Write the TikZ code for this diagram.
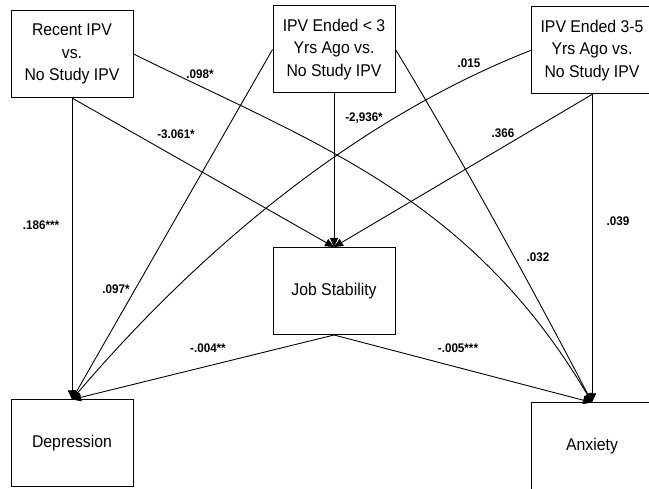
\documentclass[tikz,border=0pt]{standalone}
\usepackage{fontspec}
\setmainfont{Liberation Sans}[FakeStretch=0.93]
\usetikzlibrary{arrows.meta}
\begin{document}
\begin{tikzpicture}[x=1pt,y=-1pt,
  box/.style={draw,line width=1pt,minimum width=122pt,minimum height=87pt,inner sep=0pt,align=center,font=\fontsize{17}{22.5}\selectfont},
  lab/.style={font=\fontsize{12.5}{14}\selectfont\bfseries,inner sep=0pt},
  conn/.style={line width=0.9pt,-{Triangle[length=9pt,width=8pt]}}]
\useasboundingbox (0,0) rectangle (649,489);
\node[box] (rec) at (72,54) {Recent IPV\\vs.\\No Study IPV};
\node[box] (lt3) at (334,49.5) {IPV Ended < 3\\Yrs Ago vs.\\No Study IPV};
\node[box] (t35) at (592,50.5) {IPV Ended 3-5\\Yrs Ago vs.\\No Study IPV};
\node[box] (job) at (334,291) {Job Stability};
\node[box] (dep) at (72,443.5) {Depression};
\node[box] (anx) at (592,446.5) {Anxiety};
% to Depression
\draw[conn] (rec.south) -- (dep.north);
\draw[conn] (lt3.west) -- (dep.north);
\draw[conn] (t35.west) .. controls (341,125) and (185,267) .. (dep.north);
\draw[conn] (job.south) -- (dep.north);
% to Anxiety
\draw[conn] (rec.east) .. controls (314,143) and (470,196) .. (anx.north);
\draw[conn] (lt3.east) .. controls (455,147) and (540,302) .. (anx.north);
\draw[conn] (t35.south) -- (anx.north);
\draw[conn] (job.south) -- (anx.north);
% to Job Stability
\draw[conn] (rec.south) -- (job.north);
\draw[conn] (lt3.south) -- (job.north);
\draw[conn] (t35.south) -- (job.north);
% labels
\node[lab] (l1) at (200,74) {.098*};
\node[lab] (l2) at (176,134) {-3.061*};
\node[lab] (l3) at (41,225) {.186***};
\node[lab] (l4) at (116,289) {.097*};
\node[lab] (l5) at (364,118) {-2,936*};
\node[lab] (l6) at (469,63) {.015};
\node[lab] (l7) at (503,133) {.366};
\node[lab] (l8) at (618,221) {.039};
\node[lab] (l9) at (538,257) {.032};
\node[lab] (l10) at (208,348) {-.004**};
\node[lab] (l11) at (458,348) {-.005***};
\end{tikzpicture}
\end{document}
